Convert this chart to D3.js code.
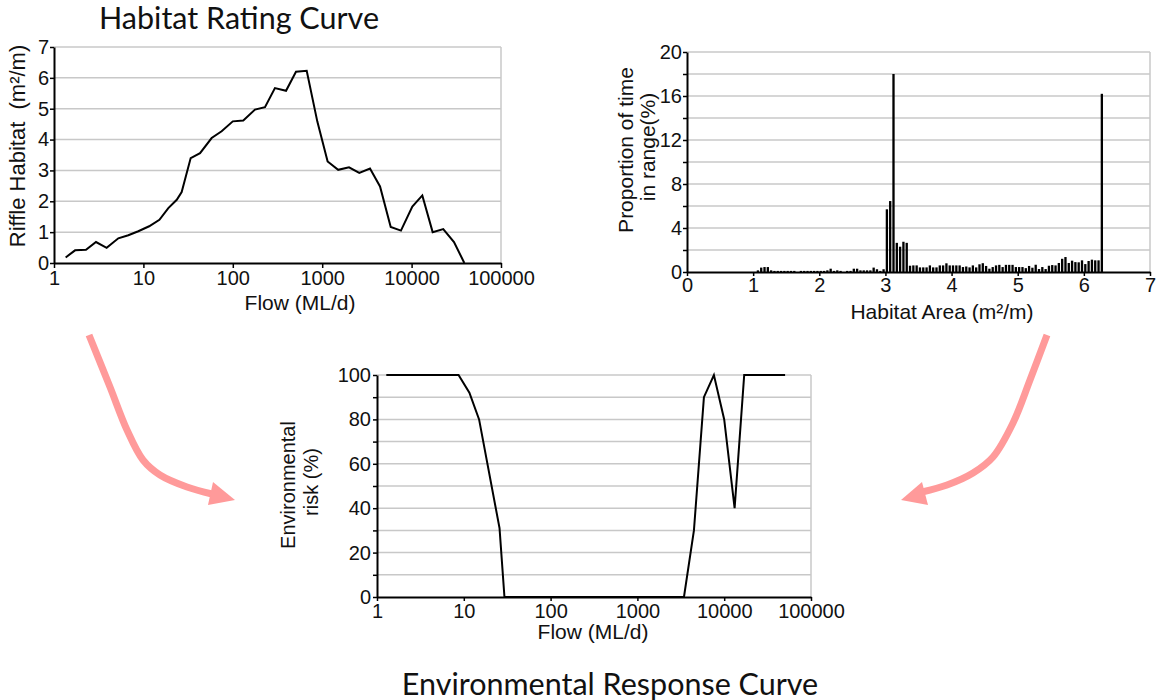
<!DOCTYPE html>
<html>
<head>
<meta charset="utf-8">
<script src="https://d3js.org/d3.v7.min.js"></script>
<style>
  body { margin: 0; background: #fff; }
</style>
</head>
<body>
<div id="chart-area"></div>
<script>
const WIDTH = 1159
const HEIGHT = 700
const GRID = "#c8c8c8"
const INK = "#111"
const AXIS_FONT = "'Liberation Sans', Arial, sans-serif"
const TITLE_FONT = "Lato, 'Open Sans', sans-serif"
const ARROW = "#ff9a9a"

// Habitat rating curve
const ratingFlow = [1.35, 1.72, 2.28, 2.95, 3.88, 5.24, 6.78, 8.77, 11.6, 15.1, 19, 23.6, 26.8, 33.8, 43, 58, 75, 100,
  131, 177, 229, 296, 394, 509, 671, 881, 1150, 1510, 1995, 2600, 3425, 4435, 5840, 7600, 10190, 13180, 17200,
  22600, 29800, 38900]
const ratingHabitat = [0.18, 0.41, 0.43, 0.68, 0.49, 0.8, 0.9, 1.03, 1.19, 1.4, 1.78, 2.05, 2.3, 3.4, 3.56, 4.05, 4.27, 4.59,
  4.62, 4.97, 5.05, 5.67, 5.58, 6.2, 6.23, 4.59, 3.29, 3.02, 3.1, 2.92, 3.06, 2.48, 1.17, 1.05, 1.83, 2.19, 1.0,
  1.1, 0.68, 0]
const flowTicks = [1, 10, 100, 1000, 10000, 100000]
const habitatTicks = [0, 1, 2, 3, 4, 5, 6, 7]

// Proportion of time in each habitat area range
const areaBins = [1.05, 1.1, 1.15, 1.2, 1.25, 1.3, 1.35, 1.4, 1.45, 1.5, 1.55, 1.6, 1.65, 1.7, 1.75, 1.8, 1.85, 1.9, 1.95,
  2.0, 2.05, 2.1, 2.15, 2.2, 2.25, 2.3, 2.35, 2.4, 2.45, 2.5, 2.55, 2.6, 2.65, 2.7, 2.75, 2.8, 2.85, 2.9, 2.95,
  3.0, 3.05, 3.1, 3.15, 3.2, 3.25, 3.3, 3.35, 3.4, 3.45, 3.5, 3.55, 3.6, 3.65, 3.7, 3.75, 3.8, 3.85, 3.9, 3.95,
  4.0, 4.05, 4.1, 4.15, 4.2, 4.25, 4.3, 4.35, 4.4, 4.45, 4.5, 4.55, 4.6, 4.65, 4.7, 4.75, 4.8, 4.85, 4.9, 4.95,
  5.0, 5.05, 5.1, 5.15, 5.2, 5.25, 5.3, 5.35, 5.4, 5.45, 5.5, 5.55, 5.6, 5.65, 5.7, 5.75, 5.8, 5.85, 5.9, 5.95,
  6.0, 6.05, 6.1, 6.15, 6.2, 6.25]
const timeInRange = [0.15, 0.4, 0.45, 0.45, 0.15, 0.1, 0.1, 0.1, 0.1, 0.1, 0.1, 0.1, 0, 0.1, 0.1, 0.1, 0.1, 0.1, 0.1,
  0.1, 0.1, 0.15, 0.3, 0.1, 0.15, 0.1, 0, 0.1, 0.1, 0.3, 0.3, 0.15, 0.15, 0.15, 0.15, 0.4, 0.25, 0.1, 0.25,
  5.7, 6.45, 18.0, 2.65, 2.3, 2.75, 2.65, 0.57, 0.6, 0.6, 0.42, 0.42, 0.42, 0.6, 0.42, 0.42, 0.6, 0.6, 0.79, 0.6,
  0.6, 0.6, 0.6, 0.45, 0.5, 0.42, 0.6, 0.42, 0.7, 0.8, 0.55, 0.3, 0.45, 0.6, 0.65, 0.45, 0.65, 0.65, 0.65, 0.45,
  0.45, 0.45, 0.35, 0.55, 0.39, 0.66, 0.27, 0.45, 0.27, 0.57, 0.63, 0.6, 0.82, 1.2, 1.36, 0.82, 1.03, 0.9, 0.88, 1.06,
  0.72, 1.0, 1.12, 1.06, 1.06, 16.2]
const areaTicks = [0, 1, 2, 3, 4, 5, 6, 7]
const timeTicks = [0, 2, 4, 6, 8, 10, 12, 14, 16, 18, 20]
const timeLabels = [0, 4, 8, 12, 16, 20]

// Environmental response curve
const riskFlow = [1.28, 8.7, 11.6, 15, 25.8, 29.4, 3440, 4480, 5840, 7610, 10000, 13180, 17000, 50300]
const riskValue = [100, 100, 92, 80, 31, 0, 0, 30, 90, 100, 80, 40, 100, 100]
const riskTicks = [0, 10, 20, 30, 40, 50, 60, 70, 80, 90, 100]
const riskLabels = [0, 20, 40, 60, 80, 100]

// panel boxes (plot area edges)
const P1 = { LEFT: 54, RIGHT: 501, TOP: 47, BOTTOM: 263 }
const P2 = { LEFT: 687, RIGHT: 1150, TOP: 52, BOTTOM: 272 }
const P3 = { LEFT: 377, RIGHT: 811, TOP: 375, BOTTOM: 597 }

const svg = d3.select("#chart-area").append("svg")
  .attr("width", WIDTH)
  .attr("height", HEIGHT)
  .style("display", "block")

// grid lines + light right border
function drawGrid(P, y, values) {
  const g = svg.append("g").attr("class", "grid")
  g.selectAll("line.h")
    .data(values.filter(v => v !== 0))
    .enter().append("line")
    .attr("x1", P.LEFT).attr("x2", P.RIGHT)
    .attr("y1", d => y(d)).attr("y2", d => y(d))
    .attr("stroke", GRID).attr("stroke-width", 1.5)
  g.append("line")
    .attr("x1", P.RIGHT).attr("x2", P.RIGHT)
    .attr("y1", P.TOP).attr("y2", P.BOTTOM)
    .attr("stroke", GRID).attr("stroke-width", 1.5)
}

function styleAxis(sel) {
  sel.select(".domain").attr("stroke", "#000").attr("stroke-width", 2)
  sel.selectAll(".tick line").attr("stroke", "#000").attr("stroke-width", 1.5)
  sel.selectAll("text")
    .attr("font-family", AXIS_FONT)
    .attr("font-size", "20px")
    .attr("fill", INK)
}

function label(x, y, text, size, rotate) {
  const t = svg.append("text")
    .attr("font-family", AXIS_FONT)
    .attr("font-size", size + "px")
    .attr("text-anchor", "middle")
    .attr("fill", INK)
    .style("white-space", "pre")
    .text(text)
  if (rotate) t.attr("transform", `translate(${x}, ${y}) rotate(-90)`)
  else t.attr("x", x).attr("y", y)
  return t
}

const plain = d3.format("d")

// ---------- Habitat rating curve ----------
const x1 = d3.scaleLog().domain([1, 100000]).range([P1.LEFT, P1.RIGHT])
const y1 = d3.scaleLinear().domain([0, 7]).range([P1.BOTTOM, P1.TOP])
drawGrid(P1, y1, habitatTicks)

svg.append("path")
  .datum(ratingFlow.map((f, i) => [f, ratingHabitat[i]]))
  .attr("fill", "none")
  .attr("stroke", "#000")
  .attr("stroke-width", 2)
  .attr("d", d3.line().x(d => x1(d[0])).y(d => y1(d[1])))

svg.append("g")
  .attr("transform", `translate(0, ${P1.BOTTOM})`)
  .call(d3.axisBottom(x1).tickValues(flowTicks).tickFormat(plain).tickSize(5).tickPadding(3).tickSizeOuter(0))
  .call(styleAxis)
svg.append("g")
  .attr("transform", `translate(${P1.LEFT}, 0)`)
  .call(d3.axisLeft(y1).tickValues(habitatTicks).tickFormat(plain).tickSize(4).tickPadding(1).tickSizeOuter(0))
  .call(styleAxis)

label(300, 310, "Flow (ML/d)", 21)
label(25, 146, "Riffle Habitat  (m²/m)", 22, true)
svg.append("text")
  .attr("x", 239).attr("y", 29)
  .attr("text-anchor", "middle")
  .attr("font-family", TITLE_FONT)
  .attr("font-size", "30.5px")
  .attr("fill", INK)
  .text("Habitat Rating Curve")

// ---------- Time in range histogram ----------
const x2 = d3.scaleLinear().domain([0, 7]).range([P2.LEFT, P2.RIGHT])
const y2 = d3.scaleLinear().domain([0, 20]).range([P2.BOTTOM, P2.TOP])
drawGrid(P2, y2, timeTicks)

svg.append("g").selectAll("rect")
  .data(areaBins.map((b, i) => ({ bin: b, value: timeInRange[i] })))
  .enter().append("rect")
  .attr("x", d => x2(d.bin) + 0.3)
  .attr("y", d => y2(d.value))
  .attr("width", d => x2(d.bin + 0.035) - x2(d.bin))
  .attr("height", d => y2(0) - y2(d.value))
  .attr("fill", "#000")

svg.append("g")
  .attr("transform", `translate(0, ${P2.BOTTOM})`)
  .call(d3.axisBottom(x2).tickValues(areaTicks).tickFormat(plain).tickSize(4).tickPadding(2).tickSizeOuter(0))
  .call(styleAxis)
svg.append("g")
  .attr("transform", `translate(${P2.LEFT}, 0)`)
  .call(d3.axisLeft(y2).tickValues(timeTicks)
    .tickFormat(d => timeLabels.includes(d) ? d : "")
    .tickSize(4).tickPadding(1).tickSizeOuter(0))
  .call(styleAxis)

label(942, 319, "Habitat Area (m²/m)", 21)
label(633, 150, "Proportion of time", 21, true)
label(655, 147, "in range(%)", 21, true)

// ---------- Environmental response curve ----------
const x3 = d3.scaleLog().domain([1, 100000]).range([P3.LEFT, P3.RIGHT])
const y3 = d3.scaleLinear().domain([0, 100]).range([P3.BOTTOM, P3.TOP])
drawGrid(P3, y3, riskTicks)

svg.append("path")
  .datum(riskFlow.map((f, i) => [f, riskValue[i]]))
  .attr("fill", "none")
  .attr("stroke", "#000")
  .attr("stroke-width", 2)
  .attr("d", d3.line().x(d => x3(d[0])).y(d => y3(d[1])))

svg.append("g")
  .attr("transform", `translate(0, ${P3.BOTTOM})`)
  .call(d3.axisBottom(x3).tickValues(flowTicks).tickFormat(plain).tickSize(4).tickPadding(3).tickSizeOuter(0))
  .call(styleAxis)
svg.append("g")
  .attr("transform", `translate(${P3.LEFT}, 0)`)
  .call(d3.axisLeft(y3).tickValues(riskTicks)
    .tickFormat(d => riskLabels.includes(d) ? d : "")
    .tickSize(4).tickPadding(2).tickSizeOuter(0))
  .call(styleAxis)

label(593, 639, "Flow (ML/d)", 21)
label(295, 485, "Environmental", 20, true)
label(318, 482, "risk (%)", 20, true)
svg.append("text")
  .attr("x", 610).attr("y", 695)
  .attr("text-anchor", "middle")
  .attr("font-family", TITLE_FONT)
  .attr("font-size", "30.5px")
  .attr("fill", INK)
  .text("Environmental Response Curve")

// ---------- pink arrows ----------
const curve = d3.line().curve(d3.curveCatmullRom)
function arrow(points, head) {
  svg.append("path")
    .attr("d", curve(points))
    .attr("fill", "none")
    .attr("stroke", ARROW)
    .attr("stroke-width", 7)
  svg.append("path")
    .attr("d", "M" + head.join("L") + "Z")
    .attr("fill", ARROW)
}
arrow([[89, 335], [110, 387], [127, 430], [143, 460], [160, 475], [187, 487], [212, 494]],
  [[235, 500], [213, 482], [208, 505]])
arrow([[1047, 335], [1030, 380], [1013, 423], [993, 457], [973, 473], [947, 485], [922, 492]],
  [[901, 500], [922, 482], [928, 505]])
</script>
</body>
</html>
